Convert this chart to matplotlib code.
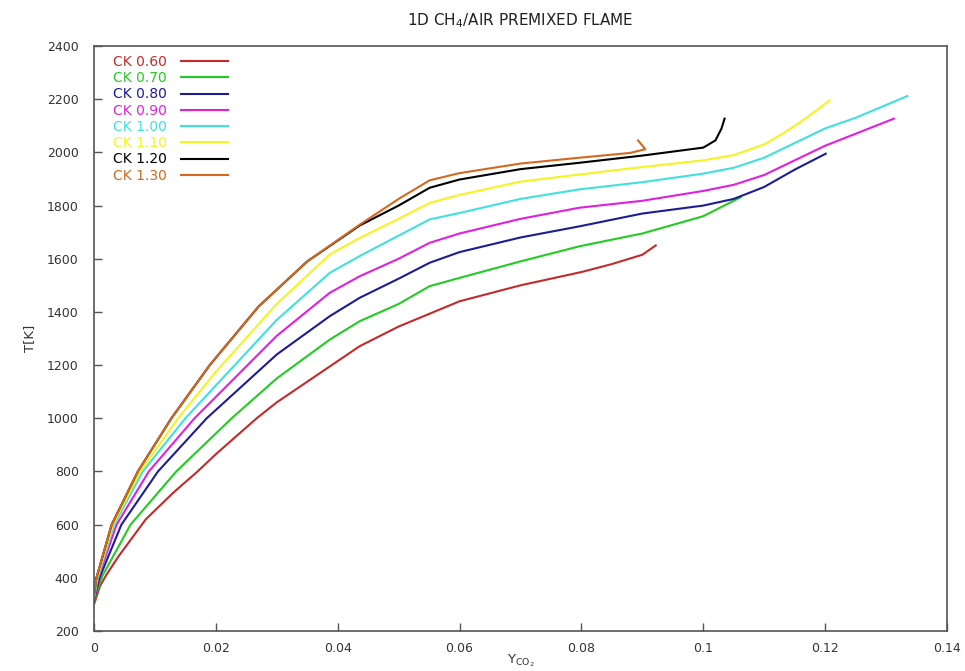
import numpy as np
import matplotlib
matplotlib.use('Agg')
import matplotlib.pyplot as plt

plt.rcParams['font.family'] = ['DejaVu Sans']

# data (Y_CO2, T[K])
x_060 = [0, 0.001, 0.002, 0.004, 0.0085, 0.013, 0.017, 0.02, 0.0267, 0.03, 0.0387, 0.0436, 0.05, 0.06, 0.07, 0.08, 0.085, 0.09, 0.0922]
t_060 = [300, 370, 410, 480, 620, 720, 800, 865, 1000, 1060, 1195, 1271, 1345, 1440, 1500, 1550, 1580, 1615, 1650]

x_070 = [0, 0.0012, 0.006, 0.0135, 0.0226, 0.03, 0.0387, 0.0436, 0.05, 0.0551, 0.06, 0.07, 0.0797, 0.09, 0.1, 0.1062]
t_070 = [310, 400, 600, 800, 1000, 1150, 1296, 1365, 1430, 1497, 1528, 1590, 1647, 1695, 1760, 1832]

x_080 = [0, 0.0009, 0.0045, 0.0105, 0.0185, 0.03, 0.0387, 0.0436, 0.05, 0.0551, 0.06, 0.07, 0.0797, 0.09, 0.1, 0.105, 0.11, 0.115, 0.1201]
t_080 = [315, 400, 600, 800, 1000, 1240, 1384, 1453, 1525, 1585, 1625, 1680, 1722, 1770, 1800, 1825, 1870, 1935, 1995]

x_090 = [0, 0.0007, 0.0037, 0.009, 0.0165, 0.03, 0.0387, 0.0436, 0.05, 0.0551, 0.06, 0.07, 0.0797, 0.09, 0.1, 0.105, 0.11, 0.115, 0.12, 0.125, 0.1313]
t_090 = [320, 400, 600, 800, 1000, 1310, 1472, 1534, 1600, 1660, 1695, 1750, 1792, 1818, 1855, 1878, 1915, 1970, 2025, 2070, 2127]

x_100 = [0, 0.0006, 0.0033, 0.008, 0.015, 0.03, 0.0387, 0.0436, 0.05, 0.0551, 0.06, 0.07, 0.0797, 0.09, 0.1, 0.105, 0.11, 0.115, 0.12, 0.125, 0.1335]
t_100 = [325, 400, 600, 800, 1000, 1370, 1547, 1610, 1687, 1748, 1772, 1825, 1861, 1888, 1920, 1942, 1980, 2035, 2090, 2130, 2212]

x_110 = [0, 0.0005, 0.0031, 0.0076, 0.0138, 0.02, 0.03, 0.0387, 0.0436, 0.05, 0.0551, 0.06, 0.07, 0.0797, 0.09, 0.1, 0.105, 0.11, 0.113, 0.116, 0.119, 0.1207]
t_110 = [330, 400, 600, 800, 1000, 1175, 1430, 1616, 1678, 1750, 1810, 1840, 1890, 1917, 1945, 1970, 1990, 2030, 2070, 2115, 2165, 2195]

x_120 = [0, 0.0004, 0.0029, 0.0072, 0.0127, 0.019, 0.027, 0.035, 0.0436, 0.05, 0.0551, 0.06, 0.07, 0.0797, 0.09, 0.1, 0.102, 0.103, 0.1035]
t_120 = [335, 400, 600, 800, 1000, 1200, 1420, 1590, 1725, 1800, 1867, 1898, 1937, 1961, 1988, 2018, 2045, 2090, 2127]

x_130 = [0, 0.0004, 0.0029, 0.0072, 0.0127, 0.019, 0.027, 0.035, 0.0436, 0.05, 0.0551, 0.06, 0.07, 0.0797, 0.088, 0.0905, 0.0893]
t_130 = [335, 400, 600, 800, 1000, 1200, 1420, 1590, 1728, 1825, 1895, 1922, 1958, 1980, 1998, 2012, 2045]

labels = ['CK 0.60', 'CK 0.70', 'CK 0.80', 'CK 0.90', 'CK 1.00', 'CK 1.10', 'CK 1.20', 'CK 1.30']
colors = ['#c42a2a', '#22cc22', '#1c1c96', '#e020e0', '#40e0e0', '#f4f420', '#000000', '#d2691e']

series = [(x_060, t_060), (x_070, t_070), (x_080, t_080), (x_090, t_090),
          (x_100, t_100), (x_110, t_110), (x_120, t_120), (x_130, t_130)]

fig = plt.figure(figsize=(9.65, 6.71), dpi=100)
ax = fig.add_axes([0.0974, 0.0596, 0.8839, 0.8718])

for (xs, ts), lab, c in zip(series, labels, colors):
    ax.plot(xs, ts, color=c, lw=1.5, label=lab, solid_joinstyle='round')

ax.set_xlim(0, 0.14)
ax.set_ylim(200, 2400)
ax.set_xticks([0, 0.02, 0.04, 0.06, 0.08, 0.1, 0.12, 0.14])
ax.set_xticklabels(['0', '0.02', '0.04', '0.06', '0.08', '0.1', '0.12', '0.14'])
ax.set_yticks(np.arange(200, 2401, 200))

ax.tick_params(direction='in', length=6, width=1, color='#555555',
               labelsize=9, labelcolor='#333333', top=False, right=False)
ax.tick_params(axis='y', pad=11)
ax.tick_params(axis='x', pad=8)
for s in ax.spines.values():
    s.set_color('#555555')
    s.set_linewidth(1.2)

ax.set_title(r'1D CH$_4$/AIR PREMIXED FLAME', fontsize=11, color='#222222', pad=15)
ax.set_ylabel('T[K]', fontsize=9.5, color='#333333', labelpad=8)
ax.set_xlabel(r'Y$_{\mathregular{CO_2}}$', fontsize=9.5, color='#333333', labelpad=-2)

leg = ax.legend(loc='upper left', frameon=False, markerfirst=False, labelcolor='linecolor',
                fontsize=10, handlelength=3.4, handletextpad=1.0, labelspacing=0.16,
                borderaxespad=0, borderpad=0, bbox_to_anchor=(0.0219, 0.9846))

fig.savefig('out.png', dpi=100)
